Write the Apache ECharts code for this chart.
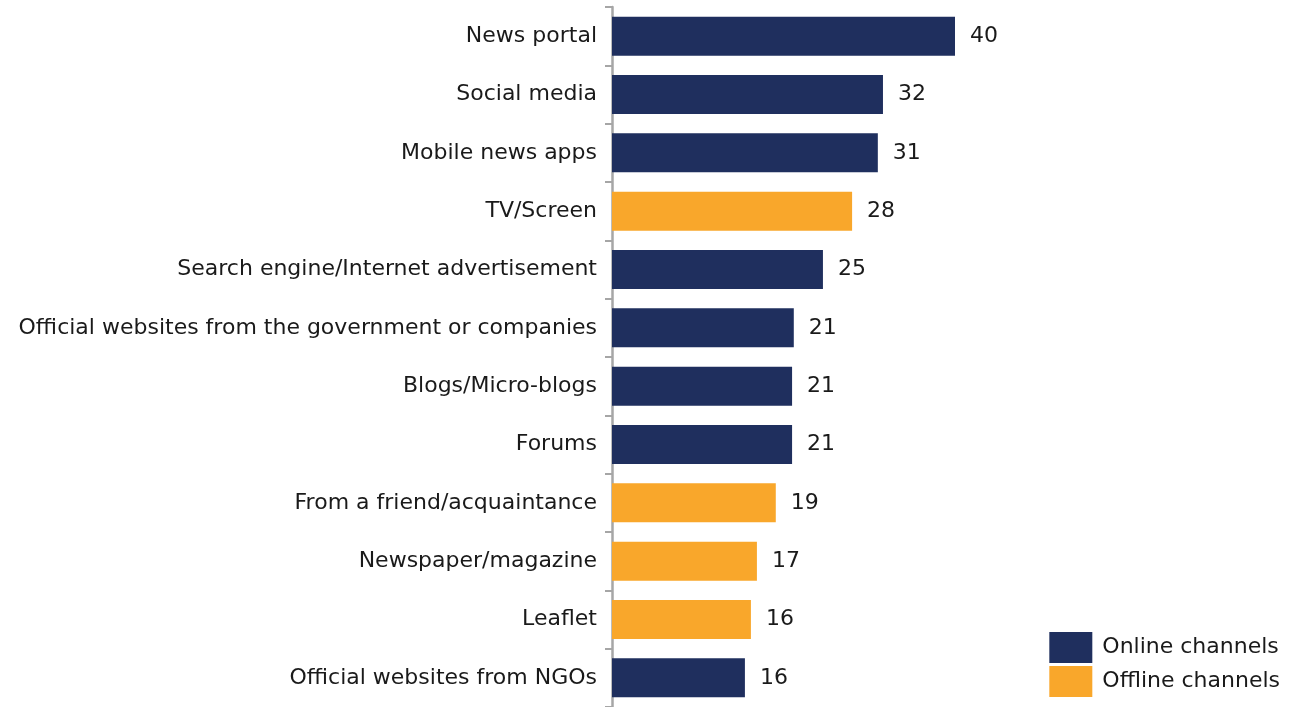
<!DOCTYPE html>
<html>
<head>
<meta charset="utf-8">
<script src="https://cdn.jsdelivr.net/npm/echarts@6/dist/echarts.min.js"></script>
<style>
  html, body { margin: 0; padding: 0; background: #fff; }
  #chart { width: 1290px; height: 707px; }
</style>
</head>
<body>
<div id="chart"></div>
<script>
const categories = [
  'News portal',
  'Social media',
  'Mobile news apps',
  'TV/Screen',
  'Search engine/Internet advertisement',
  'Official websites from the government or companies',
  'Blogs/Micro-blogs',
  'Forums',
  'From a friend/acquaintance',
  'Newspaper/magazine',
  'Leaflet',
  'Official websites from NGOs'
]
// null where the channel belongs to the other group
const onlineValues = [40, 31.6, 31, null, 24.6, 21.2, 21, 21, null, null, null, 15.5]
const offlineValues = [null, null, null, 28, null, null, null, null, 19.1, 16.9, 16.2, null]

const FONT = 'DejaVu Sans'
const NAVY = '#1f2f5e'
const ORANGE = '#f9a72b'

const chart = echarts.init(document.getElementById('chart'))

const barLabel = {
  show: true,
  position: 'right',
  distance: 15,
  color: '#1a1a1a',
  fontFamily: FONT,
  fontSize: 22,
  formatter: p => Math.round(p.value)
}

chart.setOption({
  animation: false,
  grid: {
    left: 612,
    top: 7,
    width: 428.75,
    height: 700
  },
  legend: {
    orient: 'vertical',
    right: 5,
    bottom: 5,
    icon: 'rect',
    itemWidth: 43,
    itemHeight: 31,
    itemGap: 3,
    textStyle: {
      fontFamily: FONT,
      fontSize: 22,
      color: '#1a1a1a',
      padding: [0, 0, 0, 5]
    },
    data: ['Online channels', 'Offline channels']
  },
  xAxis: {
    type: 'value',
    min: 0,
    max: 50,
    show: false
  },
  yAxis: {
    type: 'category',
    inverse: true,
    data: categories,
    axisLine: {
      lineStyle: { color: '#a6a6a6', width: 2.5 }
    },
    axisTick: {
      show: true,
      length: 7,
      lineStyle: { color: '#a6a6a6', width: 2 }
    },
    axisLabel: {
      margin: 15,
      color: '#1a1a1a',
      fontFamily: FONT,
      fontSize: 22
    }
  },
  series: [
    {
      name: 'Online channels',
      type: 'bar',
      stack: 'all',
      barWidth: 39,
      itemStyle: { color: NAVY },
      label: barLabel,
      data: onlineValues
    },
    {
      name: 'Offline channels',
      type: 'bar',
      stack: 'all',
      barWidth: 39,
      itemStyle: { color: ORANGE },
      label: barLabel,
      data: offlineValues
    }
  ]
})
</script>
</body>
</html>
